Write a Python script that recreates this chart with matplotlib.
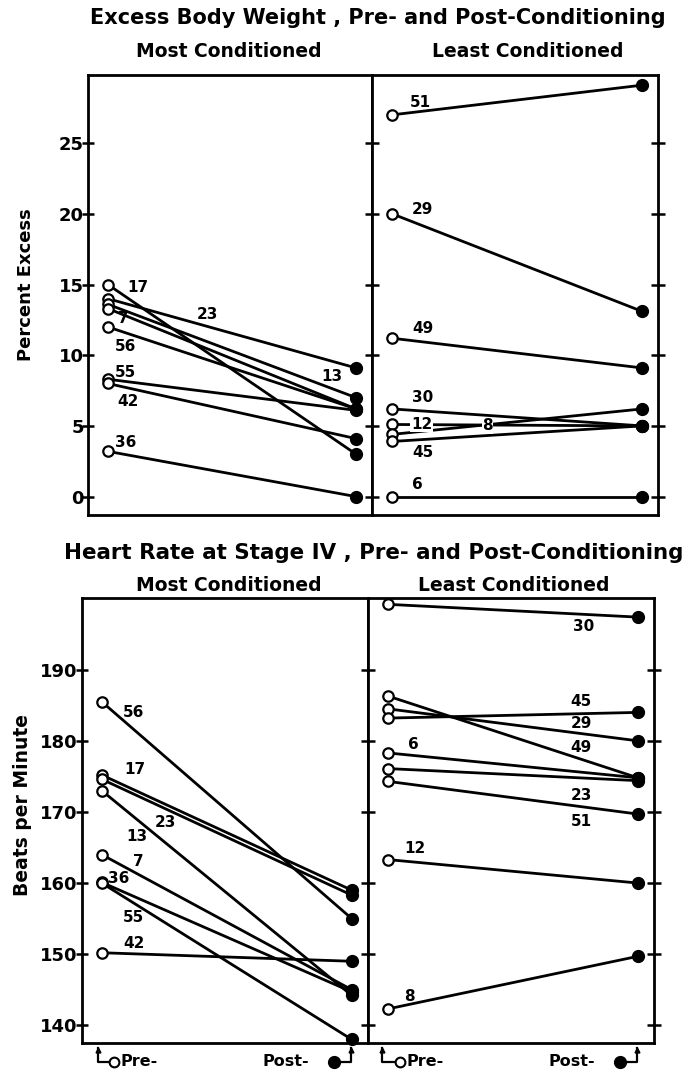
import matplotlib
matplotlib.use("Agg")
import matplotlib.pyplot as plt
from matplotlib.transforms import blended_transform_factory

plt.rcParams["font.family"] = ["DejaVu Sans"]
plt.rcParams["font.weight"] = "bold"

# ---- Excess body weight (percent) ----
wt_most_ids = [17, 23, 13, 7, 56, 55, 42, 36]
wt_most_pre = [15.0, 14.0, 13.6, 13.3, 12.0, 8.3, 8.0, 3.2]
wt_most_post = [3.0, 9.1, 7.0, 6.2, 6.2, 6.1, 4.1, 0.0]

wt_least_ids = [51, 29, 49, 30, 12, 8, 45, 6]
wt_least_pre = [27.0, 20.0, 11.2, 6.2, 5.1, 4.4, 3.9, 0.0]
wt_least_post = [29.1, 13.1, 9.1, 5.0, 5.0, 6.2, 5.0, 0.0]

# ---- Heart rate at stage IV (beats/min) ----
hr_most_ids = [56, 17, 23, 13, 7, 36, 55, 42]
hr_most_pre = [185.5, 175.2, 174.6, 173.0, 164.0, 160.1, 160.0, 150.2]
hr_most_post = [155.0, 159.0, 158.3, 144.2, 145.0, 144.7, 138.0, 149.0]

hr_least_ids = [30, 49, 29, 45, 6, 23, 51, 12, 8]
hr_least_pre = [199.2, 186.3, 184.5, 183.2, 178.3, 176.1, 174.3, 163.3, 142.3]
hr_least_post = [197.4, 174.8, 180.0, 184.0, 174.8, 174.4, 169.7, 160.0, 149.7]

wt_ticks = [0, 5, 10, 15, 20, 25]
hr_ticks = [140, 150, 160, 170, 180, 190]

# label placement (x in pre=0 / post=1 units, y in data units)
wt_most_lx = [0.08, 0.36, 0.86, 0.04, 0.03, 0.03, 0.04, 0.03]
wt_most_ly = [14.8, 12.9, 8.5, 12.6, 10.6, 8.8, 6.7, 3.8]
wt_least_lx = [0.07, 0.08, 0.08, 0.08, 0.075, 0.36, 0.08, 0.08]
wt_least_ly = [27.9, 20.3, 11.9, 7.0, 5.1, 5.0, 3.1, 0.85]
hr_most_lx = [0.085, 0.09, 0.21, 0.1, 0.125, 0.025, 0.085, 0.085]
hr_most_ly = [184.0, 176.0, 168.5, 166.6, 163.0, 160.6, 155.2, 151.5]
hr_least_lx = [0.74, 0.73, 0.73, 0.73, 0.08, 0.73, 0.73, 0.065, 0.065]
hr_least_ly = [196.1, 179.0, 182.5, 185.5, 179.5, 172.3, 168.7, 164.8, 144.1]


def draw_panel(ax, pre, post, ids, lx, ly, ylim, ticks, left):
    for a, b in zip(pre, post):
        ax.plot([0, 1], [a, b], color="black", lw=2.0, zorder=2, clip_on=False)
    ax.plot([0] * len(pre), pre, "o", ms=7.5, mfc="white", mec="black", mew=1.6,
            zorder=3, clip_on=False)
    ax.plot([1] * len(post), post, "o", ms=8.5, color="black", zorder=3, clip_on=False)
    for t, x, y in zip(ids, lx, ly):
        bb = None
        if t in (12, 8) and ylim[1] < 40:
            bb = dict(facecolor="white", edgecolor="none", pad=0.3)
        ax.text(x, y, str(t), fontsize=11, fontweight="bold", ha="left",
                va="center", zorder=4, bbox=bb)
    ax.set_xlim(-0.08, 1.065)
    ax.set_ylim(*ylim)
    ax.set_xticks([])
    ax.set_yticks(ticks)
    for s in ax.spines.values():
        s.set_linewidth(2.0)
    if left:
        ax.tick_params(axis="y", direction="inout", length=8, width=1.8,
                       labelsize=13, pad=-1)
    else:
        ax.tick_params(axis="y", direction="inout", length=10, width=1.8,
                       left=True, right=True, labelleft=False)


fig = plt.figure(figsize=(6.93, 10.83), dpi=100)

ax1 = fig.add_axes([0.127, 0.5245, 0.410, 0.406])
ax2 = fig.add_axes([0.537, 0.5245, 0.413, 0.406])
ax3 = fig.add_axes([0.118, 0.0369, 0.413, 0.411])
ax4 = fig.add_axes([0.531, 0.0369, 0.413, 0.411])

draw_panel(ax1, wt_most_pre, wt_most_post, wt_most_ids, wt_most_lx, wt_most_ly,
           (-1.3, 29.8), wt_ticks, True)
draw_panel(ax2, wt_least_pre, wt_least_post, wt_least_ids, wt_least_lx, wt_least_ly,
           (-1.3, 29.8), wt_ticks, False)
draw_panel(ax3, hr_most_pre, hr_most_post, hr_most_ids, hr_most_lx, hr_most_ly,
           (137.5, 200.1), hr_ticks, True)
draw_panel(ax4, hr_least_pre, hr_least_post, hr_least_ids, hr_least_lx, hr_least_ly,
           (137.5, 200.1), hr_ticks, False)

# Pre- / Post- keys under the heart-rate panels
for ax, dx in [(ax3, -0.016), (ax4, -0.024)]:
    tr = blended_transform_factory(ax.transData, ax.transAxes)
    ax.plot([dx, dx, 0.035], [-0.012, -0.042, -0.042], color="black", lw=1.6,
            transform=tr, clip_on=False)
    ax.plot([dx], [-0.015], "^", ms=3.5, color="black", transform=tr, clip_on=False)
    ax.plot([0.048], [-0.042], "o", ms=7, mfc="white", mec="black", mew=1.5,
            transform=tr, clip_on=False)
    ax.text(0.075, -0.042, "Pre-", fontsize=11.5, fontweight="bold", ha="left",
            va="center", transform=tr)
    ax.plot([0.93, 0.996, 0.996], [-0.042, -0.042, -0.012], color="black", lw=1.6,
            transform=tr, clip_on=False)
    ax.plot([0.996], [-0.015], "^", ms=3.5, color="black", transform=tr, clip_on=False)
    ax.plot([0.93], [-0.042], "o", ms=8.5, color="black", transform=tr, clip_on=False)
    ax.text(0.83, -0.042, "Post-", fontsize=11.5, fontweight="bold", ha="right",
            va="center", transform=tr)

fig.text(0.545, 0.983, "Excess Body Weight , Pre- and Post-Conditioning",
         fontsize=15, fontweight="bold", ha="center", va="center")
fig.text(0.33, 0.952, "Most Conditioned", fontsize=13.5, fontweight="bold",
         ha="center", va="center")
fig.text(0.762, 0.952, "Least Conditioned", fontsize=13.5, fontweight="bold",
         ha="center", va="center")
fig.text(0.539, 0.489, "Heart Rate at Stage IV , Pre- and Post-Conditioning",
         fontsize=15.4, fontweight="bold", ha="center", va="center")
fig.text(0.33, 0.459, "Most Conditioned", fontsize=13.5, fontweight="bold",
         ha="center", va="center")
fig.text(0.741, 0.459, "Least Conditioned", fontsize=13.5, fontweight="bold",
         ha="center", va="center")
fig.text(0.037, 0.737, "Percent Excess", fontsize=13, fontweight="bold",
         rotation=90, ha="center", va="center")
fig.text(0.033, 0.257, "Beats per Minute", fontsize=13.5, fontweight="bold",
         rotation=90, ha="center", va="center")

fig.savefig("out.png", dpi=100)
